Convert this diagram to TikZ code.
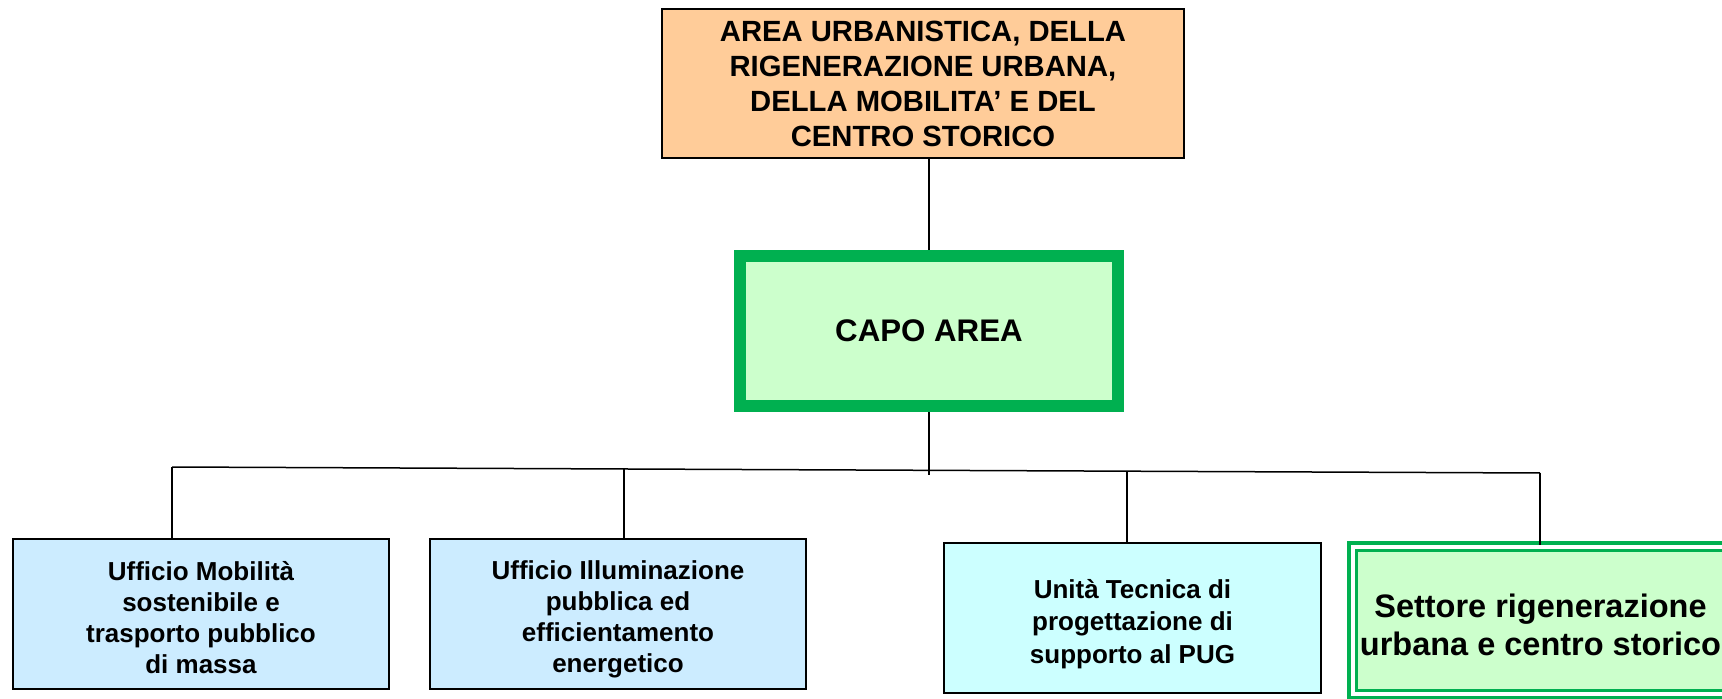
\documentclass[tikz,border=0pt]{standalone}
\usepackage{fontspec}
\setmainfont{Liberation Sans}
\definecolor{peach}{HTML}{FFCC99}
\definecolor{bgreen}{HTML}{00B050}
\definecolor{lgreen}{HTML}{CCFFCC}
\definecolor{lblue}{HTML}{CCECFF}
\definecolor{lcyan}{HTML}{CCFFFF}
\tikzset{
  unitbox/.style={draw=black, line width=0.8pt, rectangle, inner sep=0pt,
    minimum width=150.4pt, minimum height=60pt},
  unittext/.style={inner sep=0pt, align=center, font=\bfseries\fontsize{10.4}{12.4}\selectfont},
  conn/.style={draw=black, line width=0.6pt}
}
\begin{document}
\begin{tikzpicture}[x=0.4pt,y=-0.4pt]
\clip (0,0) rectangle (1722,699);
\fill[white] (0,0) rectangle (1722,699);
% top box
\node[draw=black, fill=peach, line width=0.8pt, minimum width=208.8pt, minimum height=59.6pt,
  align=center, inner sep=0pt, font=\bfseries\fontsize{11.7}{14}\selectfont]
  (top) at (923,83.5) {AREA URBANISTICA, DELLA\\RIGENERAZIONE URBANA,\\DELLA MOBILITA’ E DEL\\CENTRO STORICO};
% capo area
\node[draw=bgreen, fill=lgreen, line width=4.8pt, minimum width=151.2pt, minimum height=60pt,
  inner sep=0pt, font=\bfseries\fontsize{12.5}{15}\selectfont]
  (capo) at (929,331) {CAPO AREA};
% bottom units
\node[unitbox, fill=lblue] (b1) at (201,614) {};
\node[unittext] (b1t) at ([yshift=-1.3pt]b1.center) {Ufficio Mobilità\\sostenibile e\\trasporto pubblico\\di massa};
\node[unitbox, fill=lblue] (b2) at (618,614) {};
\node[unittext] (b2t) at ([yshift=-2.2pt]b2.center) {Ufficio Illuminazione\\pubblica ed\\efficientamento\\energetico};
\node[unitbox, fill=lcyan, minimum width=150.8pt] (b3) at (1132.5,617.5) {};
\node[unittext, font=\bfseries\fontsize{10.4}{13}\selectfont] (b3t) at ([yshift=-2.6pt]b3.center)
  {Unità Tecnica di\\progettazione di\\supporto al PUG};
\node[draw=bgreen, double=white, double distance=1.6pt, line width=1.4pt, fill=lgreen,
  minimum width=157pt, minimum height=59pt, inner sep=0pt]
  (b4) at (1548.75,620.25) {};
\node[inner sep=0pt, align=center, font=\bfseries\fontsize{13}{15.2}\selectfont]
  (b4t) at (1540.5,624.5) {Settore rigenerazione\\urbana e centro storico};
% connectors
\coordinate (bl) at (172,467);
\coordinate (br) at (1540,473);
\coordinate (cb) at (929,475);
\coordinate (j2) at (624,469);
\coordinate (j3) at (1127,471.2);
\draw[conn] (top.south -| capo.north) -- (capo.north);
\draw[conn] (capo.south) -- (cb);
\draw[conn] (bl) -- (br);
\draw[conn] (bl) -- (bl |- b1.north);
\draw[conn] (j2) -- (j2 |- b2.north);
\draw[conn] (j3) -- (j3 |- b3.north);
\draw[conn] (br) -- (br |- b4.north);
\end{tikzpicture}
\end{document}
